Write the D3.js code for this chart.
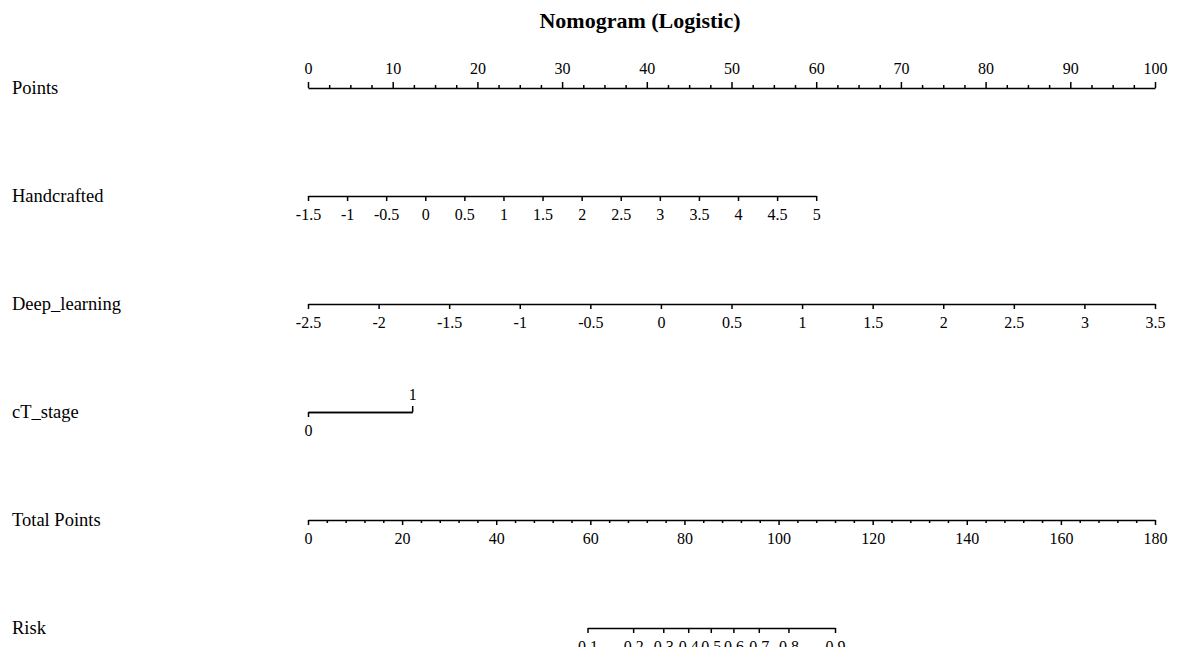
<!DOCTYPE html>
<html>
<head>
<meta charset="utf-8">
<script src="https://cdn.jsdelivr.net/npm/d3@7/dist/d3.min.js"></script>
<style>
  html, body { margin: 0; padding: 0; background: #fff; }
  svg { display: block; }
  text { font-family: "Liberation Serif", "Times New Roman", serif; fill: #000; }
</style>
</head>
<body>
<svg id="chart" width="1184" height="647"></svg>
<script>
// ---- Data ----
const title = "Nomogram (Logistic)";
const variableNames = ["Points", "Handcrafted", "Deep_learning", "cT_stage", "Total Points", "Risk"];

const pointsTicks = [0, 10, 20, 30, 40, 50, 60, 70, 80, 90, 100];
const pointsMinorStep = 2.5;

const handcraftedTicks = [-1.5, -1, -0.5, 0, 0.5, 1, 1.5, 2, 2.5, 3, 3.5, 4, 4.5, 5];
const handcraftedRange = [-1.5, 5];     // values
const handcraftedPoints = [0, 60];      // points at those values

const deepTicks = [-2.5, -2, -1.5, -1, -0.5, 0, 0.5, 1, 1.5, 2, 2.5, 3, 3.5];
const deepRange = [-2.5, 3.5];
const deepPoints = [0, 100];

const ctLevels = [0, 1];
const ctPoints = [0, 12.3];

const totalTicks = [0, 20, 40, 60, 80, 100, 120, 140, 160, 180];
const totalMinorStep = 4;

const riskTicks = [0.1, 0.2, 0.3, 0.4, 0.5, 0.6, 0.7, 0.8, 0.9];
const riskTotalPoints = [59.4, 69.1, 75.5, 80.8, 85.6, 90.4, 95.8, 102.1, 112.0];

// ---- Layout ----
const svg = d3.select("#chart");
const x0 = 308, x1 = 1155;
const rowY = [88, 196, 304, 412, 520, 628];
const tickFont = 16;

const xPts = d3.scaleLinear().domain([0, 100]).range([x0, x1]);
const xTot = d3.scaleLinear().domain([0, 180]).range([x0, x1]);

svg.append("text")
  .attr("x", 640).attr("y", 28)
  .attr("text-anchor", "middle")
  .style("font-size", "22px").style("font-weight", "bold")
  .text(title);

variableNames.forEach((n, i) => {
  svg.append("text")
    .attr("x", 12).attr("y", rowY[i] + 6)
    .style("font-size", "18.5px")
    .text(n);
});

const fmt = d => String(d);

function styleAxis(g) {
  g.select(".domain").attr("stroke", "#000").attr("stroke-width", 1.5);
  g.selectAll(".tick line").attr("stroke", "#000").attr("stroke-width", 1.5);
  g.selectAll(".tick text")
    .style("font-family", '"Liberation Serif", "Times New Roman", serif')
    .style("font-size", tickFont + "px").attr("fill", "#000");
}

// Points (ticks up, labels above)
{
  const minor = d3.range(0, 100 + 1e-9, pointsMinorStep).filter(v => pointsTicks.indexOf(v) < 0);
  const gMin = svg.append("g").attr("transform", `translate(0,${rowY[0]})`)
    .call(d3.axisTop(xPts).tickValues(minor).tickSize(3).tickSizeOuter(0).tickFormat(""));
  styleAxis(gMin);
  gMin.select(".domain").remove();
  const g = svg.append("g").attr("transform", `translate(0,${rowY[0]})`)
    .call(d3.axisTop(xPts).tickValues(pointsTicks).tickSize(6).tickSizeOuter(0).tickPadding(8).tickFormat(fmt));
  styleAxis(g);
}

// Handcrafted (ticks down)
{
  const s = d3.scaleLinear().domain(handcraftedRange).range(handcraftedPoints.map(xPts));
  const g = svg.append("g").attr("transform", `translate(0,${rowY[1]})`)
    .call(d3.axisBottom(s).tickValues(handcraftedTicks).tickSize(5).tickSizeOuter(0).tickPadding(8).tickFormat(fmt));
  styleAxis(g);
}

// Deep_learning
{
  const s = d3.scaleLinear().domain(deepRange).range(deepPoints.map(xPts));
  const g = svg.append("g").attr("transform", `translate(0,${rowY[2]})`)
    .call(d3.axisBottom(s).tickValues(deepTicks).tickSize(5).tickSizeOuter(0).tickPadding(8).tickFormat(fmt));
  styleAxis(g);
}

// cT_stage: level 0 tick down / label below, level 1 tick up / label above
{
  const s = d3.scaleLinear().domain(ctLevels).range(ctPoints.map(xPts));
  const g = svg.append("g").attr("transform", `translate(0,${rowY[3]})`);
  const gb = g.append("g").call(d3.axisBottom(s).tickValues([ctLevels[0]]).tickSize(5).tickSizeOuter(0).tickPadding(8).tickFormat(fmt));
  styleAxis(gb);
  const gt = g.append("g").call(d3.axisTop(s).tickValues([ctLevels[1]]).tickSize(6).tickSizeOuter(0).tickPadding(6).tickFormat(fmt));
  styleAxis(gt);
}

// Total Points
{
  const minor = d3.range(0, 180 + 1e-9, totalMinorStep).filter(v => totalTicks.indexOf(v) < 0);
  const gMin = svg.append("g").attr("transform", `translate(0,${rowY[4]})`)
    .call(d3.axisBottom(xTot).tickValues(minor).tickSize(3).tickSizeOuter(0).tickFormat(""));
  styleAxis(gMin);
  gMin.select(".domain").remove();
  const g = svg.append("g").attr("transform", `translate(0,${rowY[4]})`)
    .call(d3.axisBottom(xTot).tickValues(totalTicks).tickSize(5).tickSizeOuter(0).tickPadding(8).tickFormat(fmt));
  styleAxis(g);
}

// Risk
{
  const s = d3.scaleLinear().domain(riskTicks).range(riskTotalPoints.map(xTot));
  const g = svg.append("g").attr("transform", `translate(0,${rowY[5]})`)
    .call(d3.axisBottom(s).tickValues(riskTicks).tickSize(5).tickSizeOuter(0).tickPadding(8).tickFormat(fmt));
  styleAxis(g);
}
</script>
</body>
</html>
